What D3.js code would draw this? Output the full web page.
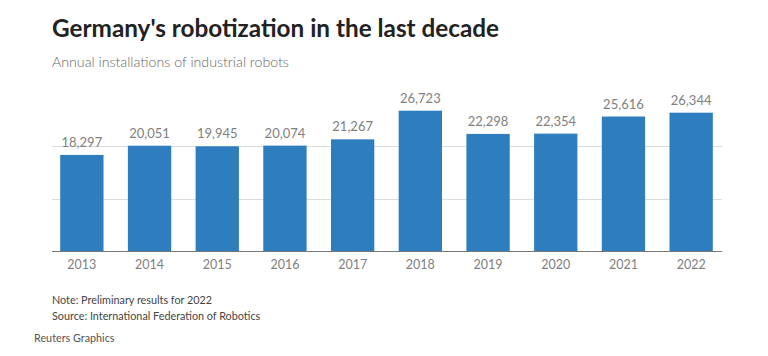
<!DOCTYPE html>
<html>
<head>
<meta charset="utf-8">
<script src="https://cdn.jsdelivr.net/npm/d3@7"></script>
<style>
  html, body { margin: 0; padding: 0; background: #fff; }
  svg { display: block; }
  text { font-family: Lato, "Open Sans", sans-serif; }
</style>
</head>
<body>
<svg id="chart" width="768" height="356"></svg>
<script>
const years = ["2013","2014","2015","2016","2017","2018","2019","2020","2021","2022"];
const installations = [18297, 20051, 19945, 20074, 21267, 26723, 22298, 22354, 25616, 26344];
const gridTicks = [10000, 20000];

const svg = d3.select("#chart");

const x = d3.scaleBand().domain(years).range([48, 725]).paddingInner(0.36).paddingOuter(0.18);
const y = d3.scaleLinear().domain([0, 30000]).range([251, 93.5]);

// title & subtitle
svg.append("text").attr("x", 52).attr("y", 37)
  .attr("font-size", 24.3).attr("font-weight", 700).attr("fill", "#222")
  .text("Germany's robotization in the last decade");
svg.append("text").attr("x", 52).attr("y", 67)
  .attr("font-size", 14.2).attr("font-weight", 300).attr("fill", "#666")
  .text("Annual installations of industrial robots");

// gridlines
svg.append("g").selectAll("line").data(gridTicks).join("line")
  .attr("x1", 52).attr("x2", 722)
  .attr("y1", d => Math.round(y(d)) + 0.5).attr("y2", d => Math.round(y(d)) + 0.5)
  .attr("stroke", "#dcdcdc").attr("stroke-width", 1);

// bars
svg.append("g").selectAll("rect").data(years).join("rect")
  .attr("x", d => x(d))
  .attr("width", x.bandwidth())
  .attr("y", (d, i) => y(installations[i]))
  .attr("height", (d, i) => y(0) - y(installations[i]))
  .attr("fill", "#2e7ebf");

// value labels
svg.append("g").selectAll("text").data(years).join("text")
  .attr("x", d => x(d) + x.bandwidth() / 2)
  .attr("y", (d, i) => y(installations[i]) - 8)
  .attr("text-anchor", "middle")
  .attr("font-size", 13).attr("fill", "#808080")
  .text((d, i) => d3.format(",")(installations[i]));

// x axis
const xAxis = svg.append("g").attr("transform", `translate(0,${y(0)})`)
  .call(d3.axisBottom(x).tickSize(0).tickPadding(9));
xAxis.select(".domain").remove();
xAxis.selectAll("text").attr("font-size", 12.5).attr("fill", "#808080").attr("font-family", "Lato, sans-serif");
svg.append("line").attr("x1", 52).attr("x2", 722)
  .attr("y1", y(0) + 0.5).attr("y2", y(0) + 0.5)
  .attr("stroke", "#777").attr("stroke-width", 1.2);

// notes
svg.append("text").attr("x", 52).attr("y", 304)
  .attr("font-size", 10.8).attr("fill", "#444")
  .text("Note: Preliminary results for 2022");
svg.append("text").attr("x", 52).attr("y", 320)
  .attr("font-size", 10.8).attr("fill", "#444")
  .text("Source: International Federation of Robotics");
svg.append("text").attr("x", 34).attr("y", 342)
  .attr("font-size", 10.8).attr("fill", "#555")
  .text("Reuters Graphics");
</script>
</body>
</html>
